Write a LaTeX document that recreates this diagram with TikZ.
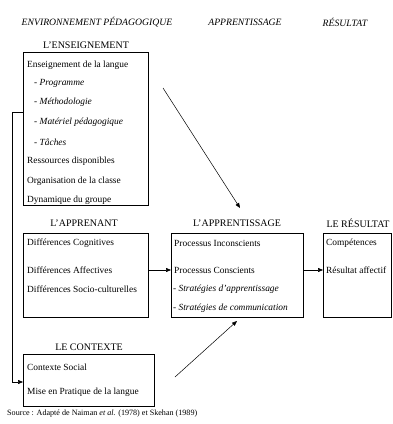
\documentclass[tikz,border=0pt]{standalone}
\usepackage{fontspec}
\setmainfont{Liberation Serif}
\usetikzlibrary{arrows.meta}
\begin{document}
\begin{tikzpicture}[x=1pt,y=-1pt,
  box/.style={draw,line width=0.6pt,anchor=north west,inner sep=0pt},
  txt/.style={anchor=west,inner sep=0pt,font=\fontsize{9.4}{11}\selectfont},
  ttl/.style={anchor=center,inner sep=0pt,font=\fontsize{10}{12}\selectfont},
  hdr/.style={anchor=center,inner sep=0pt,font=\fontsize{9.7}{11}\selectfont\itshape},
  conn/.style={line width=0.5pt},
  arr/.style={line width=0.5pt,-{Triangle[length=5pt,width=4pt]}}]
\useasboundingbox (0,0) rectangle (393,424);
% headers
\node[hdr] (h1) at (97,22) {ENVIRONNEMENT PÉDAGOGIQUE};
\node[hdr] (h2) at (245,22) {APPRENTISSAGE};
\node[hdr] (h3) at (345,22) {RÉSULTAT};
% L'ENSEIGNEMENT
\node[ttl] (t1) at (86,45) {L’ENSEIGNEMENT};
\node[box,minimum width=125pt,minimum height=153pt] (b1) at (23,52) {};
\node[txt] (l11) at (27,65) {Enseignement de la langue};
\node[txt] (l12) at (34,83) {- \textit{Programme}};
\node[txt] (l13) at (34,102) {- \textit{Méthodologie}};
\node[txt] (l14) at (34,122) {- \textit{Matériel pédagogique}};
\node[txt] (l15) at (34,142) {- \textit{Tâches}};
\node[txt] (l16) at (27,161) {Ressources disponibles};
\node[txt] (l17) at (27,181) {Organisation de la classe};
\node[txt] (l18) at (27,200) {Dynamique du groupe};
% L'APPRENANT
\node[ttl] (t2) at (84,223) {L’APPRENANT};
\node[box,minimum width=125pt,minimum height=84pt] (b2) at (23,233) {};
\node[txt] (l21) at (27,243) {Différences Cognitives};
\node[txt] (l22) at (27,270) {Différences Affectives};
\node[txt] (l23) at (27,289) {Différences Socio-culturelles};
% L'APPRENTISSAGE
\node[ttl] (t3) at (237,223) {L’APPRENTISSAGE};
\node[box,minimum width=132pt,minimum height=84pt] (b3) at (171,233) {};
\node[txt] (l31) at (174,243) {Processus Inconscients};
\node[txt] (l32) at (174,270) {Processus Conscients};
\node[txt] (l33) at (173,289) {- \textit{Stratégies d’apprentissage}};
\node[txt] (l34) at (173,308) {- \textit{Stratégies de communication}};
% LE RESULTAT
\node[ttl] (t4) at (358,223) {LE RÉSULTAT};
\node[box,minimum width=68pt,minimum height=84pt] (b4) at (323,233) {};
\node[txt] (l41) at (326,243) {Compétences};
\node[txt] (l42) at (326,270) {Résultat affectif};
% LE CONTEXTE
\node[ttl] (t5) at (89,347) {LE CONTEXTE};
\node[box,minimum width=131pt,minimum height=52pt] (b5) at (23,354) {};
\node[txt] (l51) at (27,367) {Contexte Social};
\node[txt] (l52) at (27,392) {Mise en Pratique de la langue};
% source
\node[anchor=west,inner sep=0pt,font=\fontsize{8.1}{10}\selectfont] (src) at (7,414) {Source : Adapté de Naiman \textit{et al.} (1978) et Skehan (1989)};
% connectors
\coordinate (a1) at (163,88);
\coordinate (a2) at (240,208);
\coordinate (a3) at (175,377);
\coordinate (a4) at (237,321);
\coordinate (k1) at (23,112);
\coordinate (k2) at (12,112);
\coordinate (k3) at (23,382);
\draw[arr] (a1) -- (a2);
\draw[arr] (a3) -- (a4);
\draw[conn,-{Triangle[length=5pt,width=4pt]}] (k1) -- (k2) |- (k3);
\draw[arr] (b2.east |- l22) -- (b3.west |- l22);
\draw[arr] (b3.east |- l22) -- (b4.west |- l22);
\end{tikzpicture}
\end{document}
